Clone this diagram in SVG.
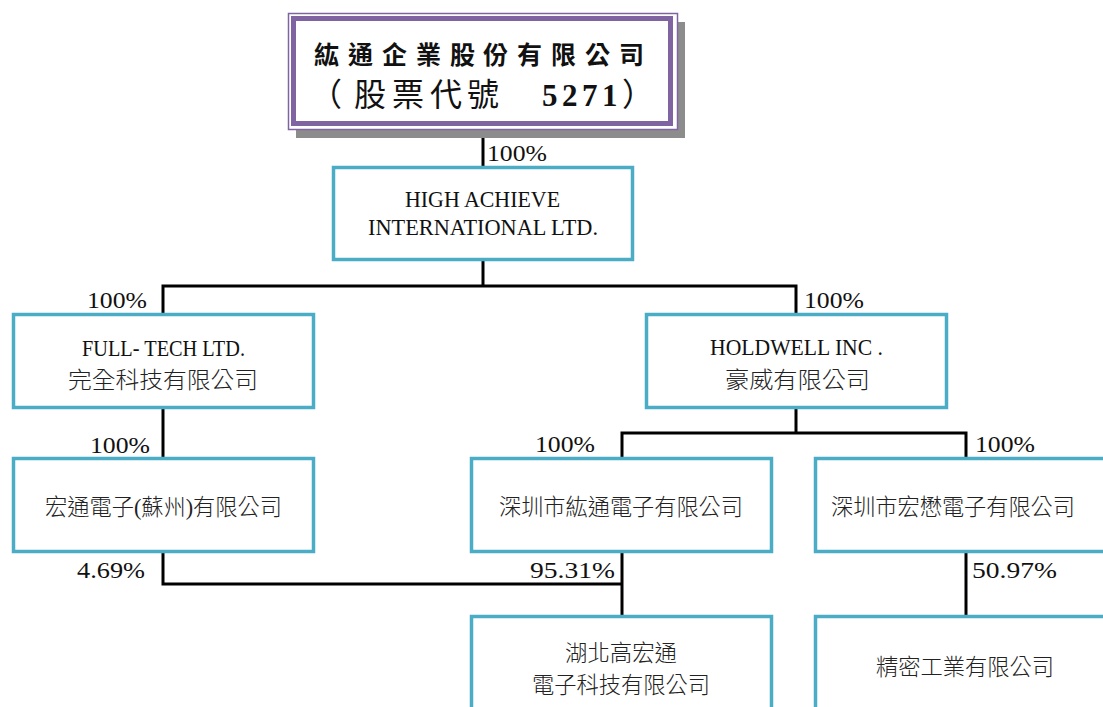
<svg xmlns="http://www.w3.org/2000/svg" width="1103" height="707" viewBox="0 0 1103 707">
<style>
.box{fill:#fff;stroke:#4BACC6;stroke-width:3.5}
.ln{fill:none;stroke:#000;stroke-width:3;stroke-linecap:square}
.lat{font-family:"Liberation Serif","Times New Roman",serif;font-size:22.5px;fill:#111}
.cjk{font-family:"Liberation Serif","Noto Sans CJK TC","Noto Sans CJK SC",serif;font-size:22.5px;fill:#222;font-weight:300}
.pct{font-family:"Liberation Serif","Times New Roman",serif;font-size:23px;fill:#111}
.ttl{font-family:"Liberation Serif","Noto Sans CJK TC","Noto Sans CJK SC",serif;font-weight:700;fill:#111}
</style>
<rect width="1103" height="707" fill="#fff"/>
<g id="connectors">
<path class="ln" d="M483 129 V167"/>
<path class="ln" d="M483 261 V286 M163 286 H796 M163 286 V314 M796 286 V314"/>
<path class="ln" d="M163 408 V458"/>
<path class="ln" d="M796 408 V433 M622 433 H966 M622 433 V458 M966 433 V458"/>
<path class="ln" d="M163 551 V584 H622 M622 551 V616"/>
<path class="ln" d="M966 551 V616"/>
</g>
<g id="labels">
<text class="pct" x="487" y="161" textLength="60" lengthAdjust="spacingAndGlyphs">100%</text>
<text class="pct" x="87" y="308" textLength="60" lengthAdjust="spacingAndGlyphs">100%</text>
<text class="pct" x="804" y="308" textLength="60" lengthAdjust="spacingAndGlyphs">100%</text>
<text class="pct" x="90" y="453" textLength="60" lengthAdjust="spacingAndGlyphs">100%</text>
<text class="pct" x="535" y="452" textLength="60" lengthAdjust="spacingAndGlyphs">100%</text>
<text class="pct" x="975" y="452" textLength="60" lengthAdjust="spacingAndGlyphs">100%</text>
<text class="pct" x="77" y="578" textLength="68" lengthAdjust="spacingAndGlyphs">4.69%</text>
<text class="pct" x="530" y="578" textLength="85" lengthAdjust="spacingAndGlyphs">95.31%</text>
<text class="pct" x="972" y="578" textLength="85" lengthAdjust="spacingAndGlyphs">50.97%</text>
</g>
<g id="parent">
<rect x="296" y="22" width="389" height="116" fill="#8c8c8c"/>
<rect x="288.5" y="13.5" width="389" height="116" fill="#fff" stroke="#8064A2" stroke-width="1.5"/>
<rect x="293.5" y="18.5" width="377" height="105" fill="#fff" stroke="#8064A2" stroke-width="5"/>
<text class="ttl" font-size="25" y="64" x="314 348 382 416 450 483 517 551 585 619">紘通企業股份有限公司</text>
<text class="ttl" font-size="32" y="106"><tspan font-weight="400" x="310 354 392 430 467 505">（股票代號 </tspan><tspan font-size="31" x="542 562 582 602">5271</tspan><tspan font-weight="400" x="622">）</tspan></text>
</g>
<g id="high-achieve">
<rect class="box" x="333.5" y="167.5" width="299" height="92"/>
<text class="lat" x="405" y="207" textLength="155" lengthAdjust="spacingAndGlyphs">HIGH ACHIEVE</text>
<text class="lat" x="368" y="235" textLength="230" lengthAdjust="spacingAndGlyphs">INTERNATIONAL LTD.</text>
</g>
<g id="full-tech">
<rect class="box" x="13.5" y="314.5" width="300" height="93"/>
<text class="lat" x="82" y="356" textLength="163" lengthAdjust="spacingAndGlyphs">FULL- TECH LTD.</text>
<text class="cjk" x="68" y="388" textLength="190" lengthAdjust="spacingAndGlyphs">完全科技有限公司</text>
</g>
<g id="holdwell">
<rect class="box" x="646.5" y="314.5" width="300" height="93"/>
<text class="lat" x="710" y="355" textLength="173" lengthAdjust="spacingAndGlyphs">HOLDWELL INC .</text>
<text class="cjk" x="725" y="388" textLength="145" lengthAdjust="spacingAndGlyphs">豪威有限公司</text>
</g>
<g id="hongtong-suzhou">
<rect class="box" x="13.5" y="458.5" width="300" height="93"/>
<text class="cjk" x="45" y="515" textLength="237" lengthAdjust="spacingAndGlyphs">宏通電子(蘇州)有限公司</text>
</g>
<g id="shenzhen-hongtong">
<rect class="box" x="471.5" y="458.5" width="300" height="93"/>
<text class="cjk" x="499" y="515" textLength="244" lengthAdjust="spacingAndGlyphs">深圳市紘通電子有限公司</text>
</g>
<g id="shenzhen-hongmao">
<rect class="box" x="815.5" y="458.5" width="300" height="93"/>
<text class="cjk" x="831" y="515" textLength="244" lengthAdjust="spacingAndGlyphs">深圳市宏懋電子有限公司</text>
</g>
<g id="hubei">
<rect class="box" x="471.5" y="616.5" width="300" height="100"/>
<text class="cjk" x="565" y="661" textLength="112" lengthAdjust="spacingAndGlyphs">湖北高宏通</text>
<text class="cjk" x="532" y="693" textLength="178" lengthAdjust="spacingAndGlyphs">電子科技有限公司</text>
</g>
<g id="precision">
<rect class="box" x="815.5" y="616.5" width="300" height="100"/>
<text class="cjk" x="876" y="675" textLength="178" lengthAdjust="spacingAndGlyphs">精密工業有限公司</text>
</g>
</svg>
